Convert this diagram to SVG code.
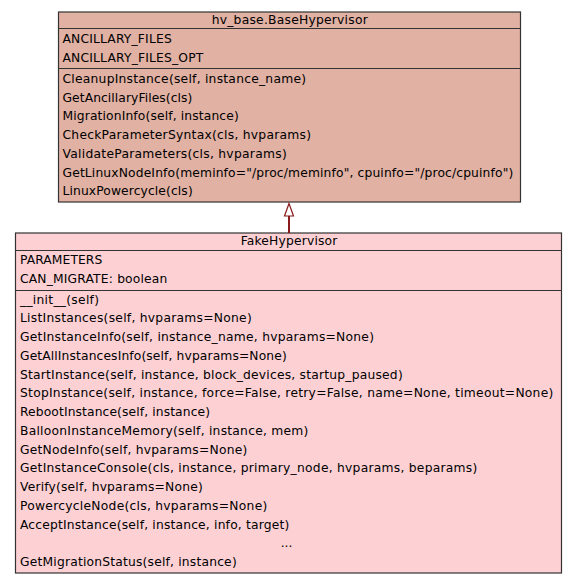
<svg xmlns="http://www.w3.org/2000/svg" width="576" height="584" viewBox="0 0 576 584">
<style>
text{font-family:"DejaVu Sans",sans-serif;font-size:12.3px;fill:#000}
.c{text-anchor:middle}
.box{stroke:#333;stroke-width:1.2}
.sep{stroke:#333;stroke-width:1.2}
.base{fill:#E1B1A3}
.fake{fill:#FDD1D4}
</style>
<rect width="576" height="584" fill="#fff"/>
<g id="BaseHypervisor">
<rect class="box base" x="58.5" y="12" width="462" height="190"/>
<line class="sep" x1="58.5" y1="28.5" x2="520.5" y2="28.5"/>
<line class="sep" x1="58.5" y1="68.5" x2="520.5" y2="68.5"/>
<text class="c" x="289.7" y="24" textLength="156">hv_base.BaseHypervisor</text>
<text x="62.5" y="43" textLength="109.2">ANCILLARY_FILES</text>
<text x="62.5" y="62" textLength="140.8">ANCILLARY_FILES_OPT</text>
<text x="62.5" y="83" textLength="243.5">CleanupInstance(self, instance_name)</text>
<text x="62.5" y="102" textLength="129.8">GetAncillaryFiles(cls)</text>
<text x="62.5" y="120" textLength="176.2">MigrationInfo(self, instance)</text>
<text x="62.5" y="139" textLength="248.5">CheckParameterSyntax(cls, hvparams)</text>
<text x="62.5" y="157.5" textLength="224.2">ValidateParameters(cls, hvparams)</text>
<text x="62.5" y="176.5" textLength="450.8">GetLinuxNodeInfo(meminfo="/proc/meminfo", cpuinfo="/proc/cpuinfo")</text>
<text x="62.5" y="195" textLength="130.2">LinuxPowercycle(cls)</text>
</g>
<g id="FakeHypervisor">
<rect class="box fake" x="15.5" y="233" width="546" height="340"/>
<line class="sep" x1="15.5" y1="250.5" x2="561.5" y2="250.5"/>
<line class="sep" x1="15.5" y1="290.5" x2="561.5" y2="290.5"/>
<text class="c" x="289" y="245" textLength="96.7">FakeHypervisor</text>
<text x="20" y="264" textLength="82.3">PARAMETERS</text>
<text x="20" y="283" textLength="147.3">CAN_MIGRATE: boolean</text>
<text x="20" y="303.5" textLength="79">__init__(self)</text>
<text x="20" y="322.3" textLength="231.7">ListInstances(self, hvparams=None)</text>
<text x="20" y="341" textLength="354">GetInstanceInfo(self, instance_name, hvparams=None)</text>
<text x="20" y="359.8" textLength="266.7">GetAllInstancesInfo(self, hvparams=None)</text>
<text x="20" y="378.5" textLength="382.7">StartInstance(self, instance, block_devices, startup_paused)</text>
<text x="20" y="397.3" textLength="533.3">StopInstance(self, instance, force=False, retry=False, name=None, timeout=None)</text>
<text x="20" y="416" textLength="190">RebootInstance(self, instance)</text>
<text x="20" y="434.8" textLength="288.3">BalloonInstanceMemory(self, instance, mem)</text>
<text x="20" y="453.5" textLength="227.3">GetNodeInfo(self, hvparams=None)</text>
<text x="20" y="472.3" textLength="457.3">GetInstanceConsole(cls, instance, primary_node, hvparams, beparams)</text>
<text x="20" y="491" textLength="182.7">Verify(self, hvparams=None)</text>
<text x="20" y="509.8" textLength="247.3">PowercycleNode(cls, hvparams=None)</text>
<text x="20" y="528.5" textLength="269.3">AcceptInstance(self, instance, info, target)</text>
<text class="c" x="286.5" y="547">...</text>
<text x="20" y="566" textLength="216.7">GetMigrationStatus(self, instance)</text>
</g>
<g id="connectors">
<line x1="289" y1="233" x2="289" y2="216" stroke="#8B1A1A" stroke-width="2"/>
<polygon points="289,203.5 284.5,216 293.5,216" fill="#fff" stroke="#8B1A1A" stroke-width="1.2"/>
</g>
</svg>
